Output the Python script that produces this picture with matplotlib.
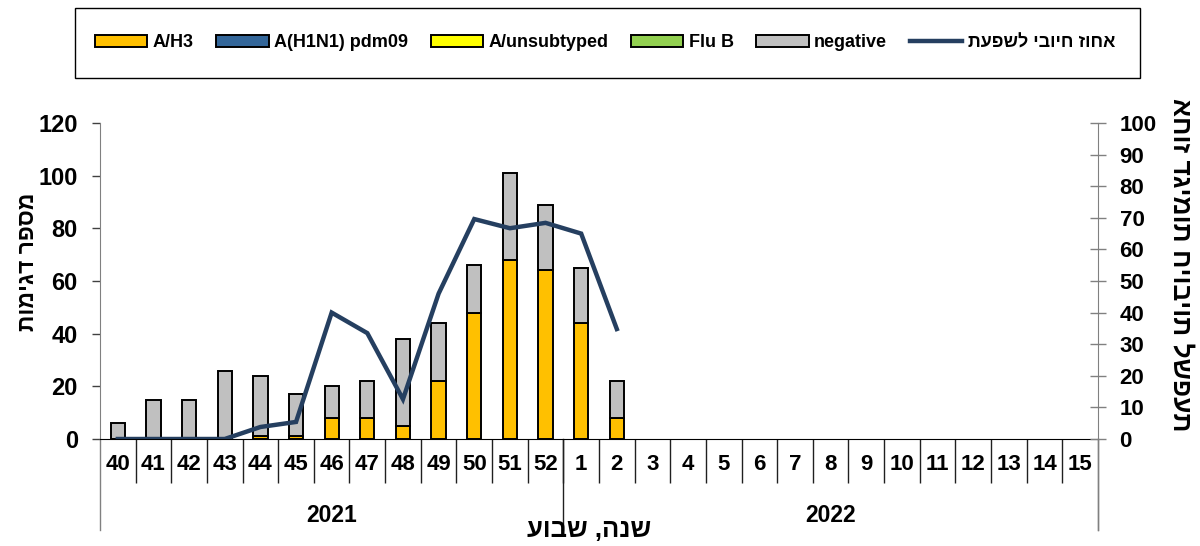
import matplotlib
matplotlib.use("Agg")
import matplotlib.pyplot as plt
from matplotlib.patches import Rectangle
import numpy as np

plt.rcParams['font.family'] = ['Liberation Sans', 'DejaVu Sans']
plt.rcParams['font.weight'] = 'bold'

# weeks on the axis (season 2021/22)
weeks = ['40', '41', '42', '43', '44', '45', '46', '47', '48', '49', '50', '51', '52',
         '1', '2', '3', '4', '5', '6', '7', '8', '9', '10', '11', '12', '13', '14', '15']
years = ['2021', '2022']
year_sizes = [13, 15]

# sample counts for weeks with data (40 .. 2)
a_h3 = [0, 0, 0, 0, 1, 1, 8, 8, 5, 22, 48, 68, 64, 44, 8]
a_h1n1 = [0] * 15
a_unsub = [0] * 15
flu_b = [0] * 15
negative = [6, 15, 15, 26, 23, 16, 12, 14, 33, 22, 18, 33, 25, 21, 14]
# percent positive for influenza
pct_pos = [0, 0, 0, 0, 3.8, 5.4, 40, 33.5, 12.6, 46, 69.6, 66.7, 68.4, 65, 34.8]

# hebrew strings are stored in visual order (matplotlib has no bidi)
lbl_line = 'אחוז חיובי לשפעת'[::-1]
lbl_left = 'מספר דגימות'[::-1]
lbl_right = 'אחוז דגימות חיוביות לשפעת'
lbl_x = 'שנה, שבוע'[::-1]

W, H = 1200, 546
fig = plt.figure(figsize=(12, 5.46), dpi=100)
ax = fig.add_axes([100 / W, 1 - 439 / H, (1098 - 100) / W, (439 - 123) / H])

x = np.arange(len(a_h3))
bw = 0.40
series = [(a_h3, '#FFC000', 'A/H3'), (a_h1n1, '#336699', 'A(H1N1) pdm09'),
          (a_unsub, '#FFFF00', 'A/unsubtyped'), (flu_b, '#92D050', 'Flu B'),
          (negative, '#C0C0C0', 'negative')]
bottom = np.zeros(len(x))
handles = []
for vals, col, name in series:
    b = ax.bar(x, vals, bw, bottom=bottom, color=col, edgecolor='black', linewidth=1.4,
               label=name, zorder=3)
    handles.append(b)
    bottom = bottom + np.array(vals)

ax.set_xlim(-0.5, len(weeks) - 0.5)
ax.set_ylim(0, 120)
ax.set_yticks(range(0, 121, 20))
ax.tick_params(axis='y', direction='out', length=6, width=1, labelsize=17, pad=10, color='#404040')
ax.set_xticks(range(len(weeks)))
ax.set_xticklabels(weeks, fontsize=16, fontweight='bold')
ax.tick_params(axis='x', length=0, pad=11)
ax.set_xticks(np.arange(0.5, len(weeks) - 1, 1), minor=True)
ax.tick_params(axis='x', which='minor', direction='out', length=32, width=1, color='#202020')
for t in ax.get_yticklabels():
    t.set_fontweight('bold')

for s in ['top', 'right']:
    ax.spines[s].set_visible(False)
ax.spines['left'].set_color('#808080')
ax.spines['bottom'].set_color('black')

# year separators and year labels under the week labels
trans = ax.get_xaxis_transform()
drop = -(530 - 439) / (439 - 123)
edges = [-0.5]
for n in year_sizes:
    edges.append(edges[-1] + n)
for e in edges:
    col = '#808080' if e in (edges[0], edges[-1]) else '#202020'
    ax.plot([e, e], [0, drop], transform=trans, color=col, lw=1, clip_on=False)
for i, yr in enumerate(years):
    ax.text((edges[i] + edges[i + 1]) / 2, -(516 - 439) / (439 - 123), yr, transform=trans,
            ha='center', va='center', fontsize=16.5, fontweight='bold')

ax2 = ax.twinx()
ax2.set_position(ax.get_position())
ln, = ax2.plot(x, pct_pos, color='#253F60', lw=3.2, solid_joinstyle='miter', zorder=4,
               label=lbl_line)
ax2.set_ylim(0, 100)
ax2.set_yticks(range(0, 101, 10))
ax2.tick_params(axis='y', direction='inout', length=11, width=1, labelsize=16, pad=10,
                color='#808080')
for t in ax2.get_yticklabels():
    t.set_fontweight('bold')
for s in ['top', 'left', 'bottom']:
    ax2.spines[s].set_visible(False)
ax2.spines['right'].set_color('#808080')
ax2.spines['right'].set_bounds(0, 100)
ax2.plot([1, 1], [0, drop], transform=ax2.transAxes, color='#808080', lw=1, clip_on=False)

fig.text(28 / W, 1 - 262 / H, lbl_left, rotation=90, ha='center', va='center',
         fontsize=16.5, fontweight='bold')
fig.text(1181 / W, 1 - 265 / H, lbl_right, rotation=270, ha='center', va='center',
         fontsize=19, fontweight='bold')
fig.text(589 / W, 1 - 530 / H, lbl_x, ha='center', va='center', fontsize=18.5, fontweight='bold')

# legend box
fig.patches.append(Rectangle((75 / W, 1 - 78 / H), (1140 - 75) / W, 70 / H,
                             transform=fig.transFigure, fill=False, edgecolor='black', lw=1))
fig.legend(handles + [ln], [h.get_label() for h in handles] + [lbl_line],
           loc='center', bbox_to_anchor=(605 / W, 1 - 43 / H), ncol=6, frameon=False,
           prop={'weight': 'bold', 'size': 13}, handlelength=2.9, handleheight=0.6,
           handletextpad=0.3, columnspacing=1.25, borderaxespad=0)

fig.savefig('out.png', dpi=100)
